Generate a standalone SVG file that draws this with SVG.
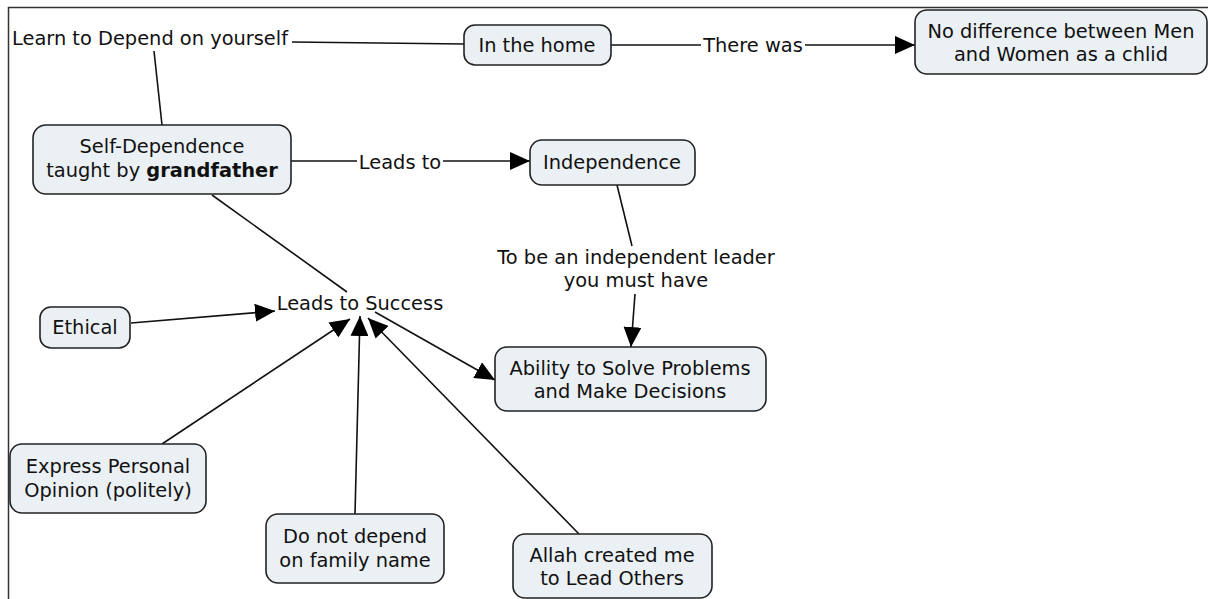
<svg xmlns="http://www.w3.org/2000/svg" width="1208" height="599" viewBox="0 0 1208 599">
  <style>
    .node rect { fill: #eaf0f3; stroke: #222; stroke-width: 1.6; }
    text { font-family: "DejaVu Sans", Verdana, sans-serif; font-size: 19.4px; fill: #111; text-anchor: middle; }
    .lab { text-anchor: start; }
    .conn line { stroke: #111; stroke-width: 1.6; }
    .arrow { marker-end: url(#head); }
  </style>
  <defs>
    <marker id="head" markerUnits="userSpaceOnUse" markerWidth="22" markerHeight="18" refX="20" refY="9" orient="auto">
      <path d="M0,0 L20,9 L0,18 Z" fill="#000"/>
    </marker>
  </defs>
  <rect width="1208" height="599" fill="#fff"/>
  <!-- frame -->
  <path d="M8.5,599 V7.5 H1208" fill="none" stroke="#333" stroke-width="1.5"/>

  <g id="connectors" class="conn">
    <line x1="162" y1="125" x2="154" y2="51"/>
    <line x1="292" y1="42" x2="464" y2="44"/>
    <line x1="611" y1="45" x2="701" y2="45"/>
    <line class="arrow" x1="805" y1="45" x2="915" y2="45"/>
    <line x1="291" y1="161" x2="357" y2="161"/>
    <line class="arrow" x1="443" y1="161" x2="530" y2="161"/>
    <line x1="617" y1="185" x2="632" y2="246"/>
    <line class="arrow" x1="635" y1="294" x2="631" y2="347"/>
    <line x1="212" y1="195" x2="347" y2="292"/>
    <line class="arrow" x1="131" y1="323" x2="275" y2="311"/>
    <line class="arrow" x1="162" y1="444" x2="350" y2="319"/>
    <line class="arrow" x1="355" y1="514" x2="360" y2="316"/>
    <line class="arrow" x1="579" y1="534" x2="368" y2="318"/>
    <line class="arrow" x1="375" y1="312" x2="495" y2="380"/>
  </g>

  <!-- linking phrases -->
  <g id="lp-learn"><text class="lab" x="12" y="45">Learn to Depend on yourself</text></g>
  <g id="lp-there"><text x="753" y="52">There was</text></g>
  <g id="lp-leads"><text x="400" y="169">Leads to</text></g>
  <g id="lp-success"><text x="360" y="310">Leads to Success</text></g>
  <g id="lp-leader">
    <text x="636" y="264">To be an independent leader</text>
    <text x="636" y="287">you must have</text>
  </g>

  <g id="n-self" class="node">
    <rect x="33" y="125" width="258" height="69" rx="13"/>
    <text x="162" y="153">Self-Dependence</text>
    <text x="162" y="177">taught by <tspan font-weight="bold">grandfather</tspan></text>
  </g>
  <g id="n-home" class="node">
    <rect x="464" y="25" width="147" height="40" rx="11"/>
    <text x="537" y="52">In the home</text>
  </g>
  <g id="n-nodiff" class="node">
    <rect x="915" y="10" width="292" height="64" rx="12"/>
    <text x="1061" y="38">No difference between Men</text>
    <text x="1061" y="61">and Women as a chlid</text>
  </g>
  <g id="n-indep" class="node">
    <rect x="530" y="140" width="165" height="45" rx="12"/>
    <text x="612" y="169">Independence</text>
  </g>
  <g id="n-ability" class="node">
    <rect x="495" y="347" width="271" height="64" rx="12"/>
    <text x="630" y="375">Ability to Solve Problems</text>
    <text x="630" y="398">and Make Decisions</text>
  </g>
  <g id="n-ethical" class="node">
    <rect x="40" y="307" width="90" height="41" rx="11"/>
    <text x="85" y="334">Ethical</text>
  </g>
  <g id="n-express" class="node">
    <rect x="10" y="444" width="196" height="69" rx="12"/>
    <text x="108" y="473">Express Personal</text>
    <text x="108" y="497">Opinion (politely)</text>
  </g>
  <g id="n-family" class="node">
    <rect x="266" y="514" width="178" height="69" rx="12"/>
    <text x="355" y="543">Do not depend</text>
    <text x="355" y="567">on family name</text>
  </g>
  <g id="n-allah" class="node">
    <rect x="513" y="534" width="199" height="64" rx="12"/>
    <text x="612" y="562">Allah created me</text>
    <text x="612" y="585">to Lead Others</text>
  </g>
</svg>
